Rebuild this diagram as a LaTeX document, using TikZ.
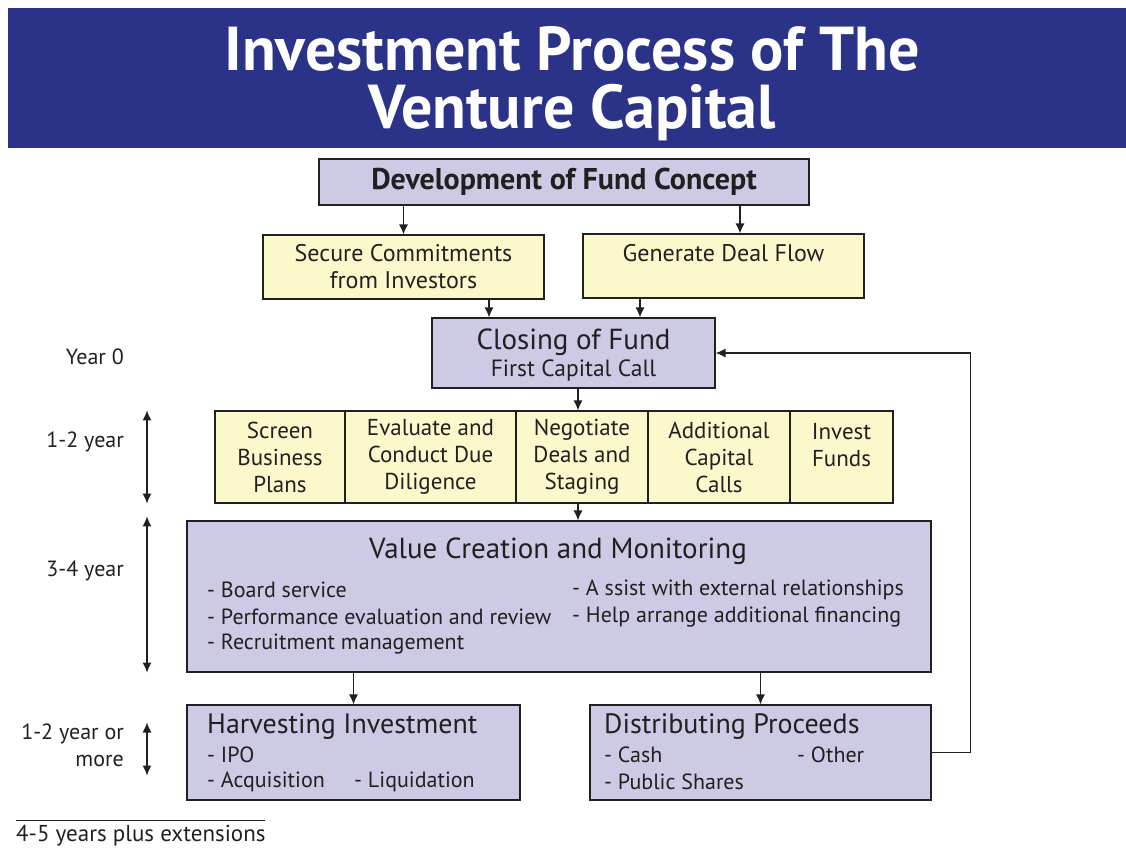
\documentclass[tikz,border=0pt]{standalone}
\usepackage{fontspec}
\setmainfont{PT Sans}
\usetikzlibrary{arrows.meta}
\definecolor{vcblue}{HTML}{2B3388}
\definecolor{vclav}{HTML}{CDCAE6}
\definecolor{vcyel}{HTML}{FBF8CC}
\definecolor{vcink}{HTML}{231F20}
\newcommand{\fsz}[1]{\fontsize{#1}{27}\selectfont}
\begin{document}
\begin{tikzpicture}[x=1pt,y=-1pt,text=vcink,
  pbox/.style={draw=vcink,fill=vclav,line width=1.2pt,inner sep=0pt},
  ybox/.style={draw=vcink,fill=vcyel,line width=1.2pt,inner sep=0pt,align=center,font=\fsz{23}},
  arr/.style={draw=vcink,line width=1.2pt,-{Latex[length=10pt,width=9pt]}},
  dbl/.style={draw=vcink,line width=1.2pt,{Latex[length=10pt,width=9pt]}-{Latex[length=10pt,width=9pt]}},
  yrlbl/.style={anchor=east,align=right,font=\fsz{22},inner sep=0pt},
  itm/.style={anchor=west,inner sep=0pt,font=\fsz{22}},
  ttl/.style={anchor=base,inner sep=0pt,text=white,font=\bfseries\fontsize{62}{56}\selectfont}]
\useasboundingbox (0,0) rectangle (1126,847);
% banner
\fill[vcblue] (8,8) rectangle (1126,148);
\node[ttl] (title1) at (572,70) {Investment Process of The};
\node[ttl] (title2) at (572,128) {Venture Capital};
% fund set-up
\node[pbox,minimum width=490pt,minimum height=46pt,font=\bfseries\fsz{30}] (dev) at (564,182) {Development of Fund Concept};
\node[ybox,minimum width=281pt,minimum height=64pt,font=\fsz{24}] (sec) at (403.5,267) {Secure Commitments\\from Investors};
\node[ybox,minimum width=281pt,minimum height=64pt] (gen) at (723.5,266) {};
\node[font=\fsz{24},inner sep=0pt] (gentxt) at (723.5,253) {Generate Deal Flow};
\node[pbox,minimum width=283pt,minimum height=70pt] (clos) at (573.5,353) {};
\node[font=\fsz{29},inner sep=0pt] (clostxt) at (573.5,342) {Closing of Fund};
\node[font=\fsz{23.5},inner sep=0pt] (callstxt) at (573.5,370) {First Capital Call};
% investing row
\node[ybox,minimum width=130pt,minimum height=92pt] (scr) at (280,457) {Screen\\Business\\Plans};
\node[ybox,minimum width=171pt,minimum height=92pt] (eval) at (430.5,457) {Evaluate and\\Conduct Due\\Diligence};
\node[ybox,minimum width=132pt,minimum height=92pt] (nego) at (582,457) {Negotiate\\Deals and\\Staging};
\node[ybox,minimum width=142pt,minimum height=92pt] (addc) at (719,457) {Additional\\Capital\\Calls};
\node[ybox,minimum width=103pt,minimum height=92pt] (inv) at (841.5,457) {};
\node[font=\fsz{23},align=center,inner sep=0pt] (invtxt) at (841.5,445) {Invest\\Funds};
% value creation
\node[pbox,minimum width=744pt,minimum height=151pt] (val) at (559,596.5) {};
\node[font=\fsz{29},inner sep=0pt] (valtxt) at (558,551) {Value Creation and Monitoring};
\node[itm] (v1) at (207,590) {- Board service};
\node[itm] (v2) at (207,617) {- Performance evaluation and review};
\node[itm] (v3) at (207,644) {- Recruitment management};
\node[itm] (v4) at (572,590) {- A ssist with external relationships};
\node[itm] (v5) at (572,617) {- Help arrange additional financing};
% exits
\node[pbox,minimum width=333pt,minimum height=95pt] (harv) at (353.5,752.5) {};
\node[itm,font=\fsz{28}] (harvtxt) at (207,727) {Harvesting Investment};
\node[itm] (h1) at (207,755) {- IPO};
\node[itm] (h2) at (207,782) {- Acquisition};
\node[itm] (h3) at (354,782) {- Liquidation};
\node[pbox,minimum width=341pt,minimum height=95pt] (dist) at (760.5,752.5) {};
\node[itm,font=\fsz{28}] (disttxt) at (604,727) {Distributing Proceeds};
\node[itm] (d1) at (604,755) {- Cash};
\node[itm] (d2) at (797,755) {- Other};
\node[itm] (d3) at (604,782) {- Public Shares};
% connectors
\draw[arr] (sec.north |- dev.south) -- (sec.north);
\draw[arr] ([xshift=16.5pt]gen.north |- dev.south) -- ([xshift=16.5pt]gen.north);
\draw[arr] ([xshift=85.5pt]sec.south) -- ([xshift=85.5pt]sec.south |- clos.north);
\draw[arr] ([xshift=-83.5pt]gen.south) -- ([xshift=-83.5pt]gen.south |- clos.north);
\draw[arr] ([xshift=4.5pt]clos.south) -- ([xshift=4.5pt]clos.south |- nego.north);
\draw[arr] ([xshift=-4pt]nego.south) -- ([xshift=-4pt]nego.south |- val.north);
\draw[arr] (harv.north |- val.south) -- (harv.north);
\draw[arr] (dist.north |- val.south) -- (dist.north);
\draw[arr] (dist.east) -- ++(39,0) |- (clos.east);
% time line
\coordinate (yrx) at (147,0);
\node[yrlbl] (y0) at (124,357) {Year 0};
\node[yrlbl] (y1) at (124,442) {1-2 year};
\node[yrlbl] (y2) at (124,571) {3-4 year};
\node[yrlbl] (y3) at (124,745) {1-2 year or\\more};
\draw[dbl] (yrx |- scr.north) -- (yrx |- scr.south);
\draw[dbl] ([yshift=4pt]yrx |- val.north) -- (yrx |- val.south);
\draw[dbl] ([yshift=30pt]yrx |- harv.center) -- ([yshift=-23pt]yrx |- harv.center);
\draw[vcink,line width=1pt] (16,820) coordinate (fn) -- (265,820);
\node[anchor=west,inner sep=0pt,font=\fsz{23}] (fntxt) at (16,836) {4-5 years plus extensions};
\end{tikzpicture}
\end{document}
